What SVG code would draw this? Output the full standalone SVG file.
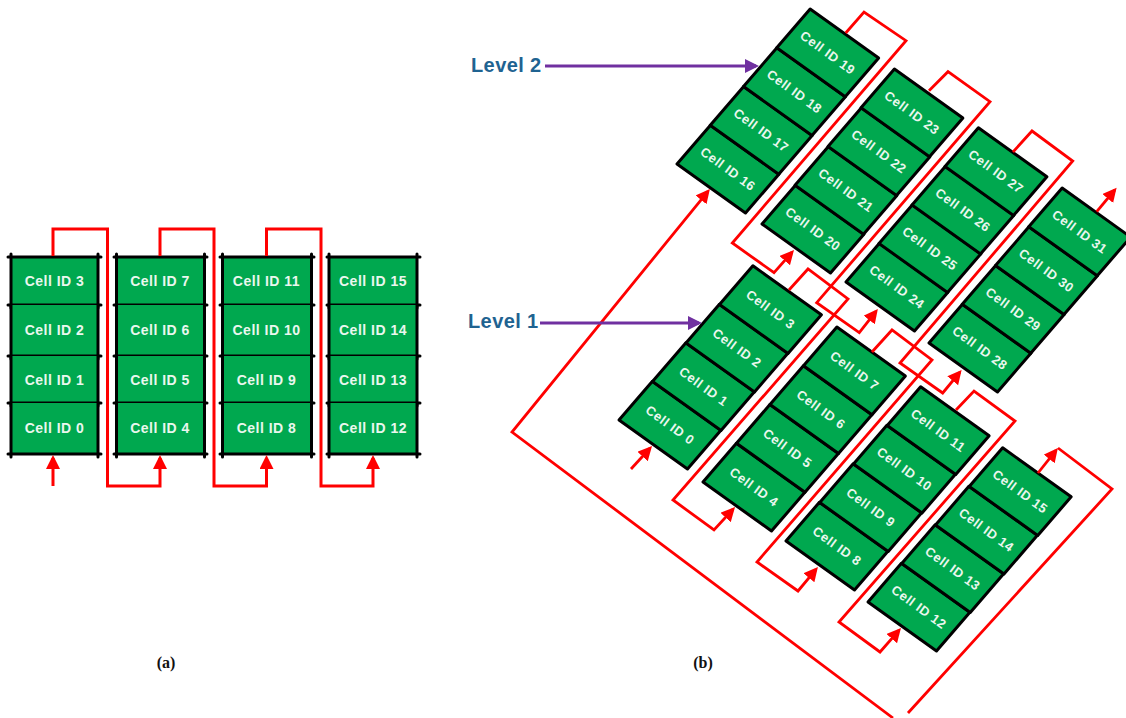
<svg xmlns="http://www.w3.org/2000/svg" width="1126" height="718" viewBox="0 0 1126 718">
<style>
.bg{fill:#fff}
.f{fill:#00A84F}
.g{fill:none;stroke:#000;stroke-width:3;stroke-linecap:round}
.o{fill:#00A84F;stroke:#000;stroke-width:3;stroke-linejoin:round}
text{font-family:"Liberation Sans",Arial,sans-serif}
.t{font-size:14px;font-weight:bold;fill:#EAF7EE;text-anchor:middle;letter-spacing:.5px}
.r{font-size:13px;font-weight:bold;fill:#EAF7EE;text-anchor:middle;letter-spacing:.6px;transform:translate(51px,5px) rotate(36deg)}
.lv{font-size:20px;font-weight:bold;fill:#1F6391;letter-spacing:.4px}
.cap{font-family:"Liberation Serif",serif;font-size:16px;font-weight:bold;fill:#111;text-anchor:middle}
.w{fill:none;stroke:#F00;stroke-width:3;stroke-linejoin:miter}
.w2{fill:none;stroke:#F00;stroke-width:2.8;stroke-linejoin:miter}
.p{fill:none;stroke:#7030A0;stroke-width:3}
</style>
<defs>
<marker id="ar" markerUnits="userSpaceOnUse" markerWidth="16" markerHeight="16" refX="11" refY="7" orient="auto"><path d="M0 0L14 7L0 14Z" fill="#F00"/></marker>
<marker id="ap" markerUnits="userSpaceOnUse" markerWidth="16" markerHeight="16" refX="11" refY="7" orient="auto"><path d="M0 0L14 7L0 14Z" fill="#7030A0"/></marker>
<polygon id="c" class="o" points="0,0 68.5,49 101.9,10.3 33.4,-38.7"/>
</defs>
<rect class="bg" width="1126" height="718"/>
<g id="a-cells">
<g id="a-cell-3"><rect class="f" x="11" y="257" width="87" height="48"/><path class="g" d="M8 257H101M8 305H101M11 254V308M98 254V308"/><text class="t" x="54.5" y="286">Cell ID 3</text></g>
<g id="a-cell-2"><rect class="f" x="11" y="305" width="87" height="51"/><path class="g" d="M8 356H101M11 305V359M98 305V359"/><text class="t" x="54.5" y="334.500">Cell ID 2</text></g>
<g id="a-cell-1"><rect class="f" x="11" y="356" width="87" height="47"/><path class="g" d="M8 403H101M11 356V406M98 356V406"/><text class="t" x="54.500" y="384.500">Cell ID 1</text></g>
<g id="a-cell-0"><rect class="f" x="11" y="403" width="87" height="51"/><path class="g" d="M8 454H101M11 403V457M98 403V457"/><text class="t" x="54.500" y="433">Cell ID 0</text></g>
<g id="a-cell-7"><rect class="f" x="116.500" y="257" width="88" height="48"/><path class="g" d="M114 257H207M114 305H207M116.500 254V308M204.500 254V308"/><text class="t" x="160" y="286">Cell ID 7</text></g>
<g id="a-cell-6"><rect class="f" x="116.500" y="305" width="88" height="51"/><path class="g" d="M114 356H207M116.500 305V359M204.500 305V359"/><text class="t" x="160" y="334.500">Cell ID 6</text></g>
<g id="a-cell-5"><rect class="f" x="116.500" y="356" width="88" height="47"/><path class="g" d="M114 403H207M116.500 356V406M204.500 356V406"/><text class="t" x="160" y="384.500">Cell ID 5</text></g>
<g id="a-cell-4"><rect class="f" x="116.500" y="403" width="88" height="51"/><path class="g" d="M114 454H207M116.500 403V457M204.500 403V457"/><text class="t" x="160" y="433">Cell ID 4</text></g>
<g id="a-cell-11"><rect class="f" x="222.500" y="257" width="89" height="48"/><path class="g" d="M220 257H314M220 305H314M222.500 254V308M311.500 254V308"/><text class="t" x="266.500" y="286">Cell ID 11</text></g>
<g id="a-cell-10"><rect class="f" x="222.500" y="305" width="89" height="51"/><path class="g" d="M220 356H314M222.500 305V359M311.500 305V359"/><text class="t" x="266.500" y="334.500">Cell ID 10</text></g>
<g id="a-cell-9"><rect class="f" x="222.500" y="356" width="89" height="47"/><path class="g" d="M220 403H314M222.500 356V406M311.500 356V406"/><text class="t" x="266.500" y="384.500">Cell ID 9</text></g>
<g id="a-cell-8"><rect class="f" x="222.500" y="403" width="89" height="51"/><path class="g" d="M220 454H314M222.500 403V457M311.500 403V457"/><text class="t" x="266.500" y="433">Cell ID 8</text></g>
<g id="a-cell-15"><rect class="f" x="329" y="257" width="88" height="48"/><path class="g" d="M327 257H420M327 305H420M329 254V308M417 254V308"/><text class="t" x="373" y="286">Cell ID 15</text></g>
<g id="a-cell-14"><rect class="f" x="329" y="305" width="88" height="51"/><path class="g" d="M327 356H420M329 305V359M417 305V359"/><text class="t" x="373" y="334.500">Cell ID 14</text></g>
<g id="a-cell-13"><rect class="f" x="329" y="356" width="88" height="47"/><path class="g" d="M327 403H420M329 356V406M417 356V406"/><text class="t" x="373" y="384.500">Cell ID 13</text></g>
<g id="a-cell-12"><rect class="f" x="329" y="403" width="88" height="51"/><path class="g" d="M327 454H420M329 403V457M417 403V457"/><text class="t" x="373" y="433">Cell ID 12</text></g>
</g>
<g id="b-cells">
<g id="b-cell-0" transform="translate(619 420)"><use href="#c"/><text class="r" y="4.500">Cell ID 0</text></g>
<g id="b-cell-1" transform="translate(652.500 381.500)"><use href="#c"/><text class="r" y="4.500">Cell ID 1</text></g>
<g id="b-cell-2" transform="translate(686 343)"><use href="#c"/><text class="r" y="4.500">Cell ID 2</text></g>
<g id="b-cell-3" transform="translate(719.500 304.500)"><use href="#c"/><text class="r" y="4.500">Cell ID 3</text></g>
<g id="b-cell-4" transform="translate(703 482)"><use href="#c"/><text class="r" y="4.500">Cell ID 4</text></g>
<g id="b-cell-5" transform="translate(736.500 443.250)"><use href="#c"/><text class="r" y="4.500">Cell ID 5</text></g>
<g id="b-cell-6" transform="translate(770 404.500)"><use href="#c"/><text class="r" y="4.500">Cell ID 6</text></g>
<g id="b-cell-7" transform="translate(803.500 365.750)"><use href="#c"/><text class="r" y="4.500">Cell ID 7</text></g>
<g id="b-cell-8" transform="translate(786 541)"><use href="#c"/><text class="r" y="4.500">Cell ID 8</text></g>
<g id="b-cell-9" transform="translate(819.750 502.500)"><use href="#c"/><text class="r" y="4.500">Cell ID 9</text></g>
<g id="b-cell-10" transform="translate(853.500 464)"><use href="#c"/><text class="r" y="4.500">Cell ID 10</text></g>
<g id="b-cell-11" transform="translate(887.250 425.500)"><use href="#c"/><text class="r" y="4.500">Cell ID 11</text></g>
<g id="b-cell-12" transform="translate(868 602)"><use href="#c"/><text class="r" y="4.500">Cell ID 12</text></g>
<g id="b-cell-13" transform="translate(901.750 563.500)"><use href="#c"/><text class="r" y="4.500">Cell ID 13</text></g>
<g id="b-cell-14" transform="translate(935.500 525)"><use href="#c"/><text class="r" y="4.500">Cell ID 14</text></g>
<g id="b-cell-15" transform="translate(969.250 486.500)"><use href="#c"/><text class="r" y="4.500">Cell ID 15</text></g>
<g id="b-cell-16" transform="translate(677 164)"><use href="#c"/><text class="r" y="4.500">Cell ID 16</text></g>
<g id="b-cell-17" transform="translate(710.250 125.250)"><use href="#c"/><text class="r" y="4.500">Cell ID 17</text></g>
<g id="b-cell-18" transform="translate(743.500 86.500)"><use href="#c"/><text class="r" y="4.500">Cell ID 18</text></g>
<g id="b-cell-19" transform="translate(776.750 47.750)"><use href="#c"/><text class="r" y="4.500">Cell ID 19</text></g>
<g id="b-cell-20" transform="translate(762 224)"><use href="#c"/><text class="r" y="4.500">Cell ID 20</text></g>
<g id="b-cell-21" transform="translate(795 185.250)"><use href="#c"/><text class="r" y="4.500">Cell ID 21</text></g>
<g id="b-cell-22" transform="translate(828 146.500)"><use href="#c"/><text class="r" y="4.500">Cell ID 22</text></g>
<g id="b-cell-23" transform="translate(861 107.750)"><use href="#c"/><text class="r" y="4.500">Cell ID 23</text></g>
<g id="b-cell-24" transform="translate(846 282)"><use href="#c"/><text class="r" y="4.500">Cell ID 24</text></g>
<g id="b-cell-25" transform="translate(879 243.500)"><use href="#c"/><text class="r" y="4.500">Cell ID 25</text></g>
<g id="b-cell-26" transform="translate(912 205)"><use href="#c"/><text class="r" y="4.500">Cell ID 26</text></g>
<g id="b-cell-27" transform="translate(945 166.500)"><use href="#c"/><text class="r" y="4.500">Cell ID 27</text></g>
<g id="b-cell-28" transform="translate(929 343)"><use href="#c"/><text class="r" y="4.500">Cell ID 28</text></g>
<g id="b-cell-29" transform="translate(962.250 304.250)"><use href="#c"/><text class="r" y="4.500">Cell ID 29</text></g>
<g id="b-cell-30" transform="translate(995.500 265.500)"><use href="#c"/><text class="r" y="4.500">Cell ID 30</text></g>
<g id="b-cell-31" transform="translate(1028.750 226.750)"><use href="#c"/><text class="r" y="4.500">Cell ID 31</text></g>
</g>
<g id="connectors">
<path class="w" marker-end="url(#ar)" d="M53 486V458"/>
<path class="w" marker-end="url(#ar)" d="M53 256V229H107.500V486H160V458"/>
<path class="w" marker-end="url(#ar)" d="M160 256V229H214V486H266.500V458"/>
<path class="w" marker-end="url(#ar)" d="M266.500 256V229H321V486H373V458"/>
<path class="w2" marker-end="url(#ar)" d="M631 469L650 448.300"/>
<path class="w2" marker-end="url(#ar)" d="M893 718L512 432L708 191.300"/>
<path class="w2" d="M1058 448L1112 489L908 713"/>
<path class="w2" marker-end="url(#ar)" d="M845.700 33L864 12L906 40.700L732.300 243L774 272.700L792 252.300"/>
<path class="w2" marker-end="url(#ar)" d="M929 90.700L948 71.700L990 101.700L816.700 302.700L859.300 332.700L876 311.300"/>
<path class="w2" marker-end="url(#ar)" d="M1013 152L1032 131L1072.700 161L900 363L942.700 393L959.700 372.300"/>
<path class="w2" marker-end="url(#ar)" d="M1096.700 211.700L1114.700 190"/>
<path class="w2" marker-end="url(#ar)" d="M789 290L808 269L848 299L673 500L714 530L733 509.300"/>
<path class="w2" marker-end="url(#ar)" d="M872 352L892 330L932 360L757 562L798 591L816 569.300"/>
<path class="w2" marker-end="url(#ar)" d="M956 410L974 391L1015 421L839 622L880 652L899 630.300"/>
<path class="w2" marker-end="url(#ar)" d="M1038 473L1056 450.300"/>
<path class="p" marker-end="url(#ap)" d="M545 66H756"/>
<path class="p" marker-end="url(#ap)" d="M540 323H699"/>
</g>
<g id="labels">
<text class="lv" x="471" y="72">Level 2</text>
<text class="lv" x="468" y="328">Level 1</text>
<text class="cap" x="166" y="668">(a)</text>
<text class="cap" x="703" y="668">(b)</text>
</g>
</svg>
